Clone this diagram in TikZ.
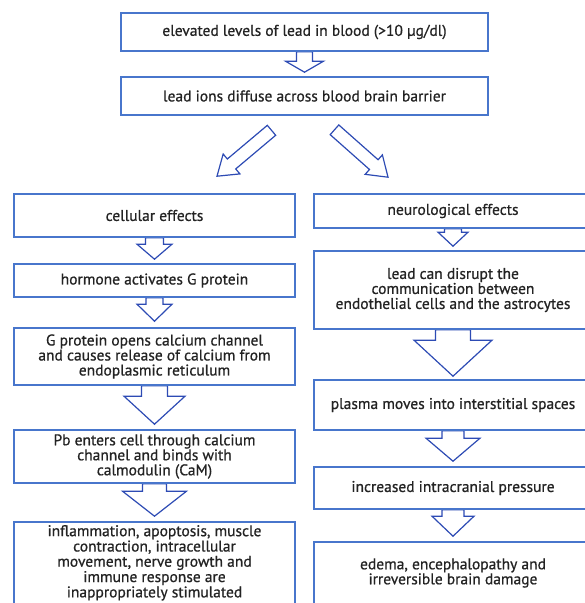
\documentclass[tikz,border=0pt]{standalone}
\usepackage{fontspec}
\setmainfont{PT Sans}[BoldFont={PT Sans},BoldFeatures={FakeBold=0.7}]
\usetikzlibrary{calc,backgrounds}
\definecolor{boxblue}{RGB}{72,118,204}
\definecolor{arrblue}{RGB}{45,75,180}
\definecolor{txt}{RGB}{35,35,35}
\tikzset{
  box/.style={draw=boxblue, line width=1.6pt, fill=white, text=txt, align=center,
    font=\fontsize{15.5}{15}\selectfont\bfseries, inner sep=0pt},
  hollow/.style={draw=arrblue, line width=1.2pt, fill=white, line join=miter}
}
\newcommand{\hollowarrow}[5]{%
  \coordinate (haT) at #1;
  \coordinate (haP) at #2;
  \coordinate (haH) at ($(haP)!#5pt!(haT)$);
  \draw[hollow] ($(haT)!#3pt!90:(haP)$) -- ($(haH)!#3pt!90:(haP)$) -- ($(haH)!#4pt!90:(haP)$) -- (haP)
    -- ($(haH)!#4pt!-90:(haP)$) -- ($(haH)!#3pt!-90:(haP)$) -- ($(haT)!#3pt!-90:(haP)$) -- cycle;
}
\begin{document}
\begin{tikzpicture}[x=1pt,y=-1pt]
\useasboundingbox (0,0) rectangle (585,603);
% top boxes
\node[box, minimum width=367pt, minimum height=38pt] (b1) at (304.5,32) {elevated levels of lead in blood (>10 µg/dl)};
\node[box, minimum width=367pt, minimum height=38pt] (b2) at (304.5,96) {lead ions diffuse across blood brain barrier};
% left column
\node[box, minimum width=281pt, minimum height=43pt] (l1) at (154.5,215.5) {cellular effects};
\node[box, minimum width=281pt, minimum height=33pt] (l2) at (154.5,280.5) {hormone activates G protein};
\node[box, minimum width=281pt, minimum height=57pt] (l3) at (154.5,356.5) {G protein opens calcium channel\\and causes release of calcium from\\endoplasmic reticulum};
\node[box, minimum width=281pt, minimum height=53pt] (l4) at (154.5,456.5) {Pb enters cell through calcium\\channel and binds with\\calmodulin (CaM)};
\node[box, minimum width=281pt, minimum height=88pt] (l5) at (154.5,566) {\raisebox{-1pt}[0pt][0pt]{\fontsize{15.5}{14.5}\selectfont\begin{tabular}{@{}c@{}}inflammation, apoptosis, muscle\\contraction, intracellular\\movement, nerve growth and\\immune response are\\inappropriately stimulated\end{tabular}}};
% right column
\node[box, minimum width=278pt, minimum height=34pt] (r1) at (453,211) {neurological effects};
\node[box, minimum width=278pt, minimum height=78pt] (r2) at (453,290) {lead can disrupt the\\communication between\\endothelial cells and the astrocytes};
\node[box, minimum width=278pt, minimum height=50pt] (r3) at (453,405) {plasma moves into interstitial spaces};
\node[box, minimum width=278pt, minimum height=42pt] (r4) at (453,488) {increased intracranial pressure};
\node[box, minimum width=278pt, minimum height=62pt] (r5) at (453,573) {edema, encephalopathy and\\irreversible brain damage};
% arrows
\begin{scope}[on background layer]
\hollowarrow{(b1.south)}{($(b2.north)+(0,-4)$)}{8}{19}{11}
\coordinate (dl) at ($(b2.south)+(-33,14.5)$);
\coordinate (dr) at ($(b2.south)+(30,14)$);
\hollowarrow{(dl)}{($(l1.north)+(62.5,-17)$)}{6.5}{13}{19}
\hollowarrow{(dr)}{($(r1.north)+(-65,-16)$)}{6.5}{13}{19}
\hollowarrow{(l1.south)}{($(l2.north)+(0,-4)$)}{9}{17.5}{15}
\hollowarrow{(l2.south)}{($(l3.north)+(0,-6)$)}{8.5}{17.5}{17}
\hollowarrow{(l3.south)}{($(l4.north)+(0,-5)$)}{13}{30.5}{28}
\hollowarrow{(l4.south)}{($(l5.north)+(0,-5)$)}{12}{32}{25}
\hollowarrow{(r1.south)}{($(r2.north)+(0,-4)$)}{8.5}{15}{14}
\hollowarrow{(r2.south)}{($(r3.north)+(0,-3)$)}{17.5}{39}{36}
\hollowarrow{(r3.south)}{($(r4.north)+(0,-5)$)}{11}{27}{23}
\hollowarrow{(r4.south)}{($(r5.north)+(0,-5)$)}{11}{21}{20}
\end{scope}
\end{tikzpicture}
\end{document}
